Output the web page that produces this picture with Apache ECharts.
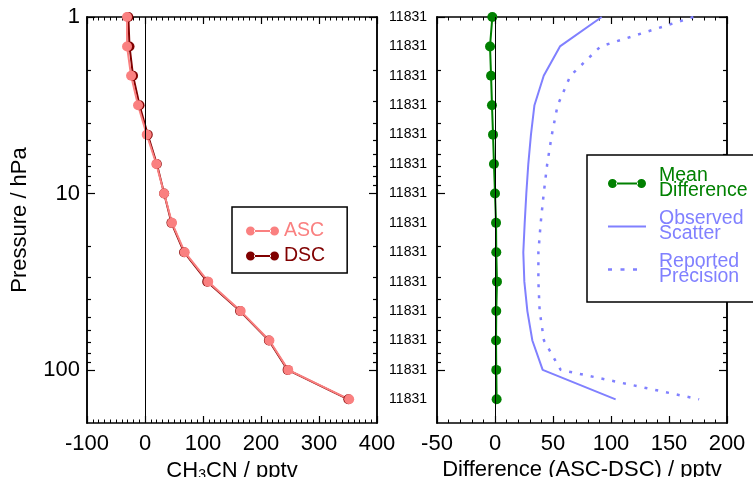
<!DOCTYPE html>
<html><head><meta charset="utf-8">
<script src="https://cdn.jsdelivr.net/npm/echarts@6/dist/echarts.min.js"></script>
<style>html,body{margin:0;padding:0;background:#fff}#c{width:753px;height:477px}</style>
</head><body><div id="c"></div>
<script>
// ---- data ----
const pressure = [1, 1.468, 2.154, 3.162, 4.642, 6.813, 10, 14.68, 21.54, 31.62, 46.42, 68.13, 100, 146.8];
const asc = [-31, -31, -24, -12, 3, 19.5, 33, 46.5, 68.5, 109, 165, 214.5, 247, 352];
const dsc = [-28.7, -26.7, -20.6, -9.4, 4.7, 20.4, 33, 45.6, 67.4, 107.3, 163.9, 213.6, 245.9, 350.6];
const meanDiff = [-2.3, -4.3, -3.4, -2.6, -1.7, -0.9, 0, 0.9, 1.1, 1.7, 1.1, 0.9, 1.1, 1.4];
const scatter = [92, 56, 42, 34, 31, 28.7, 27, 25.6, 24.4, 25.3, 27.9, 32.2, 41.1, 104];
const precision = [171, 91, 65, 54, 49, 45, 42, 39.4, 37.4, 37.4, 38.5, 42.2, 56.6, 176];
const majorP = [1, 10, 100];
const minorP = [2, 3, 4, 5, 6, 7, 8, 9, 20, 30, 40, 50, 60, 70, 80, 90];
const rightYLabel = '11831';
const names = { asc: 'ASC', dsc: 'DSC', md: 'Mean\nDifference', os: 'Observed\nScatter', rp: 'Reported\nPrecision' };

// ---- style ----
const FONT = "'Liberation Sans', Arial, Helvetica, sans-serif";
const AXF = 22;
const C = { asc: '#FA8080', dsc: '#800000', md: '#008000', blue: '#8080FF' };
const pair = (xs) => xs.map((v, i) => [v, pressure[i]]);
const lineAx = { show: true, onZero: false, lineStyle: { color: '#000', width: 1.5 } };

function xAx(grid, min, max, interval, split, pos, name) {
  return {
    type: 'value', gridIndex: grid, min, max, interval, position: pos,
    axisLine: lineAx,
    axisTick: { show: true, inside: true, length: 7, lineStyle: { color: '#000', width: 1.2 } },
    minorTick: { show: true, splitNumber: split, length: 3.5, lineStyle: { color: '#000', width: 1 } },
    splitLine: { show: false }, minorSplitLine: { show: false },
    axisLabel: { show: pos === 'bottom', color: '#000', fontSize: AXF, fontFamily: FONT, margin: 10 },
    name: name || '', nameLocation: 'middle', nameGap: 36, nameMoveOverlap: false,
    nameTextStyle: { color: '#000', fontSize: AXF, fontFamily: FONT,
      rich: { a: { fontSize: AXF, fontFamily: FONT, color: '#000' },
              s: { fontSize: 14, fontFamily: FONT, color: '#000', verticalAlign: 'bottom', padding: [9, 0, 0, 0] } } }
  };
}
function yAx(grid, pos, ticks, len, label, name) {
  const o = {
    type: 'log', gridIndex: grid, inverse: true, min: 1, max: 200, position: pos,
    axisLine: lineAx,
    axisTick: { show: true, inside: true, length: len, customValues: ticks, lineStyle: { color: '#000', width: 1.2 } },
    splitLine: { show: false },
    axisLabel: { show: false }
  };
  if (label) o.axisLabel = label;
  if (name) {
    o.name = name; o.nameLocation = 'middle'; o.nameGap = 56; o.nameRotate = 90; o.nameMoveOverlap = false;
    o.nameTextStyle = { color: '#000', fontSize: AXF, fontFamily: FONT };
  }
  return o;
}

const iconLeft = 'path://M0,4.5A4.5,4.5,0,1,0,9,4.5A4.5,4.5,0,1,0,0,4.5ZM8,3.6H25V5.4H8ZM24,4.5A4.5,4.5,0,1,0,33,4.5A4.5,4.5,0,1,0,24,4.5Z';
const iconMd = 'path://M0,4.5A4.5,4.5,0,1,0,9,4.5A4.5,4.5,0,1,0,0,4.5ZM8,3.6H30V5.4H8ZM29,4.5A4.5,4.5,0,1,0,38,4.5A4.5,4.5,0,1,0,29,4.5Z';
const iconSolid = 'path://M0,0H38V2H0Z';
const iconDot = 'path://M0,0H4V2.5H0ZM12.5,0H16.5V2.5H12.5ZM25,0H29V2.5H25ZM37.95,1.2H38V1.25H37.95Z';

const option = {
  animation: false,
  backgroundColor: '#fff',
  textStyle: { fontFamily: FONT },
  grid: [
    { left: 87, top: 17, width: 290, height: 406, outerBoundsMode: 'none' },
    { left: 437, top: 17, width: 290, height: 406, outerBoundsMode: 'none' }
  ],
  xAxis: [
    xAx(0, -100, 400, 100, 10, 'bottom', '{a|CH}{s|3}{a|CN / pptv}'),
    xAx(0, -100, 400, 100, 10, 'top'),
    xAx(1, -50, 200, 50, 5, 'bottom', 'Difference (ASC-DSC) / pptv'),
    xAx(1, -50, 200, 50, 5, 'top')
  ],
  yAxis: [
    yAx(0, 'left', majorP, 8, { show: true, customValues: majorP, color: '#000', fontSize: AXF, fontFamily: FONT, margin: 7 }, 'Pressure / hPa'),
    yAx(0, 'left', minorP, 4),
    yAx(0, 'right', majorP, 8),
    yAx(0, 'right', minorP, 4),
    yAx(1, 'left', majorP, 8, { show: true, customValues: pressure, formatter: () => rightYLabel, color: '#000', fontSize: 14, fontFamily: FONT, margin: 10 }),
    yAx(1, 'left', minorP, 4),
    yAx(1, 'right', majorP, 8),
    yAx(1, 'right', minorP, 4)
  ],
  legend: [
    { orient: 'vertical', left: 232, top: 207, padding: [14, 22, 7, 14], itemGap: 5,
      itemWidth: 33, itemHeight: 9, borderColor: '#000', borderWidth: 1.5, backgroundColor: '#fff',
      itemStyle: { borderWidth: 0 },
      textStyle: { fontSize: 19.5, fontFamily: FONT },
      data: [ { name: names.asc, icon: iconLeft, textStyle: { color: C.asc } },
              { name: names.dsc, icon: iconLeft, textStyle: { color: C.dsc } } ] },
    { orient: 'vertical', left: 587, top: 155, padding: [11, 40, 15, 21], itemGap: 8,
      itemWidth: 38, itemHeight: 10, borderColor: '#000', borderWidth: 1.5, backgroundColor: '#fff',
      itemStyle: { borderWidth: 0 },
      textStyle: { fontSize: 19.5, fontFamily: FONT, lineHeight: 15, padding: [0, 0, 0, 8] },
      data: [ { name: names.md, icon: iconMd, textStyle: { color: C.md } },
              { name: names.os, icon: iconSolid, textStyle: { color: C.blue } },
              { name: names.rp, icon: iconDot, textStyle: { color: C.blue } } ] }
  ],
  series: [
    { name: names.dsc, type: 'line', xAxisIndex: 0, yAxisIndex: 0, data: pair(dsc),
      symbol: 'circle', symbolSize: 10, color: C.dsc, lineStyle: { width: 2, color: C.dsc }, itemStyle: { color: C.dsc },
      markLine: { silent: true, symbol: 'none', label: { show: false }, lineStyle: { color: '#000', width: 1, type: 'solid' }, data: [{ xAxis: 0 }] } },
    { name: names.asc, type: 'line', xAxisIndex: 0, yAxisIndex: 0, data: pair(asc),
      symbol: 'circle', symbolSize: 10, color: C.asc, lineStyle: { width: 2, color: C.asc }, itemStyle: { color: C.asc } },
    { name: names.os, type: 'line', xAxisIndex: 2, yAxisIndex: 4, data: pair(scatter),
      symbol: 'none', color: C.blue, lineStyle: { width: 2, color: C.blue } },
    { name: names.rp, type: 'line', xAxisIndex: 2, yAxisIndex: 4, data: pair(precision),
      symbol: 'none', color: C.blue, lineStyle: { width: 2.5, color: C.blue, type: [3, 8] } },
    { name: names.md, type: 'line', xAxisIndex: 2, yAxisIndex: 4, data: pair(meanDiff),
      symbol: 'circle', symbolSize: 10, color: C.md, lineStyle: { width: 2, color: C.md }, itemStyle: { color: C.md },
      markLine: { silent: true, symbol: 'none', label: { show: false }, lineStyle: { color: '#000', width: 1, type: 'solid' }, data: [{ xAxis: 0 }] } }
  ]
};
const chart = echarts.init(document.getElementById('c'), null, { renderer: 'canvas' });
chart.setOption(option);
</script></body></html>
